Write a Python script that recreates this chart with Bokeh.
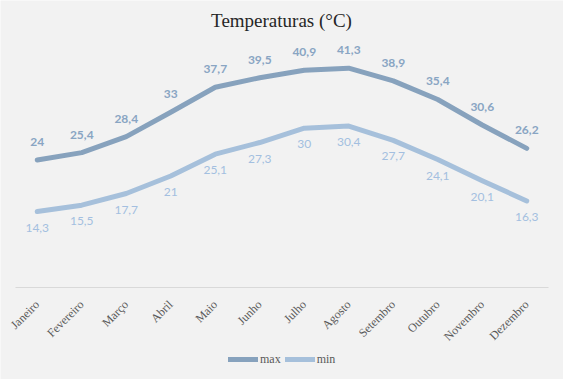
import math
from bokeh.plotting import figure
from bokeh.models import Range1d, FactorRange, Legend, LegendItem, ColumnDataSource, Label
from bokeh.core.properties import value
from bokeh.embed import file_html
from bokeh.resources import INLINE

months = ["Janeiro", "Fevereiro", "Março", "Abril", "Maio", "Junho", "Julho",
          "Agosto", "Setembro", "Outubro", "Novembro", "Dezembro"]
t_max = [24, 25.4, 28.4, 33, 37.7, 39.5, 40.9, 41.3, 38.9, 35.4, 30.6, 26.2]
t_min = [14.3, 15.5, 17.7, 21, 25.1, 27.3, 30, 30.4, 27.7, 24.1, 20.1, 16.3]
title_text = "Temperaturas (°C)"

def fmt(v):
    return ("%g" % v).replace(".", ",")

src = ColumnDataSource(dict(
    m=months, mx=t_max, mn=t_min,
    lmx=[fmt(v) for v in t_max], lmn=[fmt(v) for v in t_min],
))

BG = "#f2f2f2"
C_MAX = "#87a2bd"
C_MIN = "#a6c0db"
C_LMAX = "#89a5c3"
C_LMIN = "#a3bfe0"

# frame covers the whole canvas; value 0 sits 92px above the bottom, 45 sits 48px below the top
p = figure(width=563, height=379, output_backend="svg", toolbar_location=None,
           x_range=FactorRange(factors=months, range_padding=0.326,
                               range_padding_units="absolute"),
           y_range=Range1d(-17.32, 54.04),
           min_border_left=0, min_border_right=0, min_border_top=0, min_border_bottom=0)
p.background_fill_color = BG
p.border_fill_color = BG
p.outline_line_color = None

p.add_layout(Label(x=281, y=359, x_units="screen", y_units="screen", text=title_text,
                   text_font="Liberation Serif", text_font_size="19px",
                   text_color="#262626", text_align="center", text_baseline="middle"))

r1 = p.line("m", "mx", source=src, line_color=C_MAX, line_width=5,
            line_cap="round", line_join="round")
r2 = p.line("m", "mn", source=src, line_color=C_MIN, line_width=5,
            line_cap="round", line_join="round")

p.text("m", "mx", text="lmx", source=src, text_font=value("Lato"),
       text_font_size="12px", text_font_style="bold", text_color=C_LMAX,
       text_align="center", text_baseline="middle", y_offset=-18)
p.text("m", "mn", text="lmn", source=src, text_font=value("Lato"),
       text_font_size="12px", text_color=C_LMIN,
       text_align="center", text_baseline="middle", y_offset=16)

p.yaxis.visible = False
p.xgrid.visible = False
p.ygrid.visible = False
xa = p.xaxis[0]
xa.fixed_location = 0
xa.bounds = (0, 12)
xa.axis_line_color = "#d9d9d9"
xa.major_tick_line_color = None
xa.minor_tick_line_color = None
xa.major_label_orientation = math.pi / 4
xa.major_label_standoff = 9
xa.major_label_text_font = "Liberation Serif"
xa.major_label_text_font_size = "12px"
xa.major_label_text_color = "#595959"

leg = Legend(items=[LegendItem(label="max", renderers=[r1]),
                    LegendItem(label="min", renderers=[r2])],
             orientation="horizontal", location=(228, 10))
leg.background_fill_alpha = 0
leg.border_line_color = None
leg.label_text_font = "Liberation Serif"
leg.label_text_font_size = "12px"
leg.label_text_color = "#595959"
leg.glyph_width = 30
leg.label_standoff = 2
leg.spacing = 4
leg.padding = 2
leg.margin = 0
p.add_layout(leg)

open("out.html", "w").write(file_html(p, INLINE))
